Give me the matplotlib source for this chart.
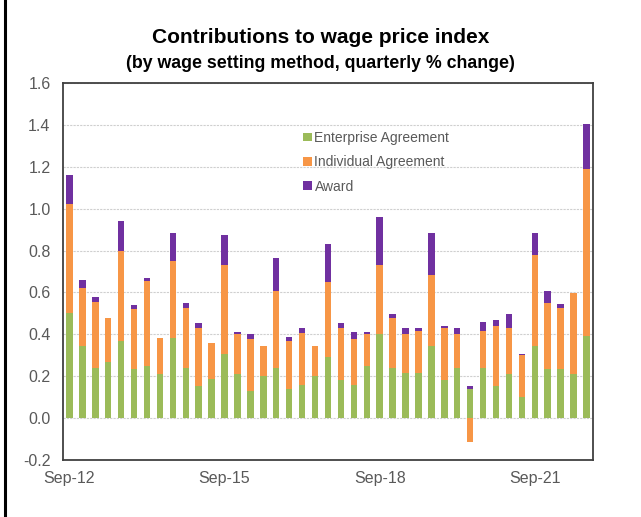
import numpy as np
import matplotlib.pyplot as plt
from matplotlib.lines import Line2D

# quarters Sep-12 .. Sep-22
quarters = ['Sep-12', 'Dec-12', 'Mar-13', 'Jun-13', 'Sep-13', 'Dec-13', 'Mar-14', 'Jun-14',
            'Sep-14', 'Dec-14', 'Mar-15', 'Jun-15', 'Sep-15', 'Dec-15', 'Mar-16', 'Jun-16',
            'Sep-16', 'Dec-16', 'Mar-17', 'Jun-17', 'Sep-17', 'Dec-17', 'Mar-18', 'Jun-18',
            'Sep-18', 'Dec-18', 'Mar-19', 'Jun-19', 'Sep-19', 'Dec-19', 'Mar-20', 'Jun-20',
            'Sep-20', 'Dec-20', 'Mar-21', 'Jun-21', 'Sep-21', 'Dec-21', 'Mar-22', 'Jun-22',
            'Sep-22']

enterprise = [0.50, 0.345, 0.238, 0.27, 0.37, 0.234, 0.248, 0.21, 0.38, 0.238, 0.151, 0.188,
              0.307, 0.21, 0.13, 0.203, 0.238, 0.138, 0.159, 0.203, 0.291, 0.181, 0.159, 0.248,
              0.402, 0.238, 0.215, 0.215, 0.345, 0.181, 0.238, 0.138, 0.238, 0.151, 0.21, 0.10,
              0.345, 0.232, 0.232, 0.21, 0.39]
individual = [0.52, 0.275, 0.318, 0.21, 0.43, 0.286, 0.405, 0.17, 0.369, 0.29, 0.281, 0.17,
              0.426, 0.19, 0.247, 0.139, 0.369, 0.232, 0.248, 0.139, 0.361, 0.248, 0.219, 0.152,
              0.331, 0.242, 0.185, 0.202, 0.337, 0.251, 0.162, -0.114, 0.179, 0.288, 0.222, 0.20,
              0.432, 0.316, 0.296, 0.386, 0.80]
award = [0.14, 0.04, 0.021, 0.0, 0.14, 0.022, 0.015, 0.0, 0.133, 0.022, 0.023, 0.0,
         0.141, 0.009, 0.023, 0.0, 0.155, 0.016, 0.025, 0.0, 0.178, 0.024, 0.031, 0.009,
         0.229, 0.018, 0.032, 0.015, 0.20, 0.007, 0.032, 0.013, 0.044, 0.03, 0.066, 0.007,
         0.105, 0.061, 0.016, 0.0, 0.214]

series = [('Enterprise Agreement', enterprise, '#9BBB59'),
          ('Individual Agreement', individual, '#F79646'),
          ('Award', award, '#7030A0')]

x = np.arange(len(quarters))
fig = plt.figure(figsize=(6.41, 5.17), dpi=100)
ax = fig.add_axes([0.0983, 0.1103, 0.8267, 0.7292])
plt.rcParams['font.family'] = ['Liberation Sans', 'DejaVu Sans']

# stack positives upward and negatives downward, like Excel does
pos_bottom = np.zeros(len(x))
neg_bottom = np.zeros(len(x))
for name, vals, col in series:
    v = np.array(vals)
    bottom = np.where(v >= 0, pos_bottom, neg_bottom)
    ax.bar(x, v, 0.5, bottom=bottom, color=col, label=name, zorder=3, linewidth=0)
    pos_bottom = pos_bottom + np.where(v >= 0, v, 0)
    neg_bottom = neg_bottom + np.where(v < 0, v, 0)

ax.set_xlim(-0.5, 40.5)
ax.set_ylim(-0.2, 1.6)
ax.set_yticks(np.arange(-0.2, 1.61, 0.2))
ax.set_yticklabels(['%.1f' % t for t in np.arange(-0.2, 1.61, 0.2)])
ax.set_xticks(x[::12])
ax.set_xticklabels([quarters[i] for i in x[::12]])
ax.tick_params(axis='both', length=0, labelsize=11.5, colors='#595959')
ax.tick_params(axis='y', pad=9)
ax.tick_params(axis='x', pad=8)
for lab in ax.get_xticklabels() + ax.get_yticklabels():
    lab.set_fontfamily('Liberation Sans')
ax.grid(axis='y', color='#CFCFCF', linestyle=(0, (2, 1)), linewidth=0.8, zorder=0)
for s in ax.spines.values():
    s.set_color('#404040')
    s.set_linewidth(1.3)

leg = ax.legend(loc='upper left', bbox_to_anchor=(0.43, 0.906), frameon=False,
                handlelength=0.6, handleheight=0.6, handletextpad=0.2,
                labelspacing=0.75, prop={'family': 'Liberation Sans', 'size': 10})
for t in leg.get_texts():
    t.set_color('#595959')

fig.text(0.5, 0.928, 'Contributions to wage price index', ha='center', va='center',
         fontsize=15, fontweight='bold', family='Liberation Sans')
fig.text(0.5, 0.878, '(by wage setting method, quarterly % change)', ha='center',
         va='center', fontsize=12.8, fontweight='bold', family='Liberation Sans')

fig.add_artist(Line2D([4.5 / 641, 4.5 / 641], [0, 1], transform=fig.transFigure,
                      color='black', linewidth=2.2))

fig.savefig('out.png', dpi=100)
